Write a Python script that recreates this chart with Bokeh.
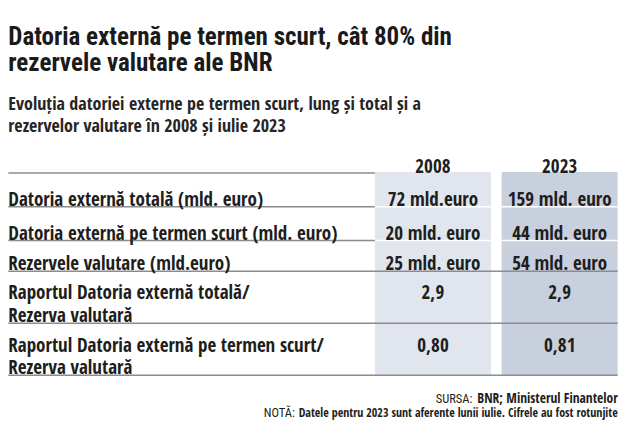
from bokeh.plotting import figure
from bokeh.models import Range1d
from bokeh.core.properties import value
from bokeh.embed import file_html
from bokeh.resources import INLINE

title_lines = ["Datoria externă pe termen scurt, cât 80% din",
               "rezervele valutare ale BNR"]
subtitle_lines = ["Evoluția datoriei externe pe termen scurt, lung și total și a",
                  "rezervelor valutare în 2008 și iulie 2023"]
years = ["2008", "2023"]
row_labels = ["Datoria externă totală (mld. euro)",
              "Datoria externă pe termen scurt (mld. euro)",
              "Rezervele valutare (mld.euro)",
              "Raportul Datoria externă totală/\nRezerva valutară",
              "Raportul Datoria externă pe termen scurt/\nRezerva valutară"]
values_2008 = ["72 mld.euro", "20 mld. euro", "25 mld. euro", "2,9", "0,80"]
values_2023 = ["159 mld. euro", "44 mld. euro", "54 mld. euro", "2,9", "0,81"]
source_label = "SURSA:"
source_text = "BNR; Ministerul Finantelor"
note_label = "NOTĂ:"
note_text = "Datele pentru 2023 sunt aferente lunii iulie. Cifrele au fost rotunjite"

BODY = value("Open Sans Condensed")
HEAD = value("Roboto Condensed")
INK = "#1e1e1c"

def main():
    # data units = pixels of the 640x440 reference
    p = figure(width=624, height=424, x_range=Range1d(0, 640), y_range=Range1d(440, 0),
               output_backend="svg", toolbar_location=None, min_border=0)
    p.axis.visible = False
    p.grid.visible = False
    p.outline_line_color = None
    p.background_fill_color = "white"

    # table layout
    row_edges = [179, 214, 249, 281, 335, 389]
    first_base = [206, 241, 272, 303, 357]
    line_gap = 23
    col_left = [384, 514]
    col_right = [503, 633]
    col_fill = ["#e0e5ee", "#c8d0dd"]
    col_vals = [values_2008, values_2023]

    for c in range(2):
        p.quad(left=col_left[c], right=col_right[c], top=row_edges[0] - 1, bottom=row_edges[-1],
               fill_color=col_fill[c], line_color=None)
        # white separators in upper rows
        for e in row_edges[1:3]:
            p.segment(x0=col_left[c], y0=e, x1=col_right[c], y1=e, line_color="white", line_width=1.5)

    # grey rules
    for i, e in enumerate(row_edges):
        right = 384 if i < 3 else 633
        p.segment(x0=8, y0=e, x1=right, y1=e, line_color="#8c8c8c", line_width=1.5)

    # header
    centers = [(col_left[c] + col_right[c]) / 2 for c in range(2)]
    p.text(x=centers, y=[172, 172], text=years, text_font=BODY, text_font_style="bold",
           text_font_size="19px", text_align="center", text_baseline="alphabetic", text_color=INK)

    # row labels
    lx, ly, lt = [], [], []
    for i, lab in enumerate(row_labels):
        for j, line in enumerate(lab.split("\n")):
            lx.append(8)
            ly.append(first_base[i] + j * line_gap)
            lt.append(line)
    p.text(x=lx, y=ly, text=lt, text_font=BODY, text_font_style="bold", text_font_size="19px",
           text_align="left", text_baseline="alphabetic", text_color=INK)

    # values
    for c in range(2):
        p.text(x=[centers[c]] * len(col_vals[c]), y=first_base, text=col_vals[c], text_font=BODY,
               text_font_style="bold", text_font_size="19px", text_align="center",
               text_baseline="alphabetic", text_color=INK)

    # title and subtitle
    p.text(x=[8, 8], y=[37, 64], text=title_lines, text_font=HEAD,
           text_font_style="bold", text_font_size="25px", text_align="left",
           text_baseline="alphabetic", text_color="#1a1a1a")
    p.text(x=[8, 8], y=[106, 129], text=subtitle_lines, text_font=BODY, text_font_style="bold",
           text_font_size="18px", text_align="left", text_baseline="alphabetic", text_color="#262626")

    # source / note
    p.text(x=[633], y=[413], text=[source_text], text_font=BODY,
           text_font_style="bold", text_font_size="13.5px", text_align="right",
           text_baseline="alphabetic", text_color=INK)
    p.text(x=[633], y=[428], text=[note_text], text_font=BODY,
           text_font_style="bold", text_font_size="12px", text_align="right",
           text_baseline="alphabetic", text_color=INK)
    p.text(x=[484, 302], y=[413, 428], text=[source_label, note_label], text_font=HEAD,
           text_font_size="12.5px", text_align="right", text_baseline="alphabetic", text_color=INK)

    open("out.html", "w").write(file_html(p, INLINE))

if __name__ == '__main__':
    main()
